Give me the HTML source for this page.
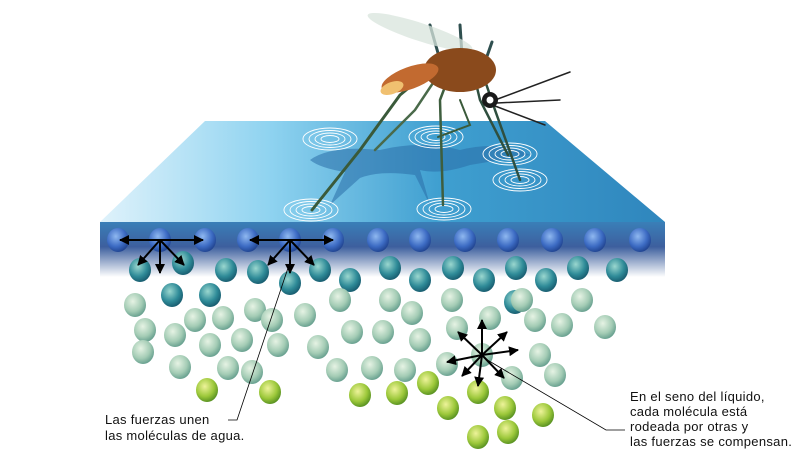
<!DOCTYPE html>
<html><head><meta charset="utf-8"><style>
html,body{margin:0;padding:0;background:#fff;width:800px;height:458px;overflow:hidden}
text{font-family:"Liberation Sans",sans-serif;font-size:13px;letter-spacing:0.3px;fill:#111}
</style></head><body>
<svg width="800" height="458" viewBox="0 0 800 458">
<defs>
<linearGradient id="top" x1="0" x2="1" y1="0" y2="0"><stop offset="0" stop-color="#dff2fb"/><stop offset="0.3" stop-color="#8fd3f0"/><stop offset="0.6" stop-color="#3f9fd0"/><stop offset="1" stop-color="#2f86bd"/></linearGradient>
<linearGradient id="front" x1="0" x2="0" y1="0" y2="1"><stop offset="0" stop-color="#3a7fb8"/><stop offset="0.45" stop-color="#3d5f9e"/><stop offset="1" stop-color="#ffffff"/></linearGradient>
<radialGradient id="gb" cx="0.4" cy="0.35" r="0.7"><stop offset="0" stop-color="#8fb8f0"/><stop offset="0.6" stop-color="#3d6cc4"/><stop offset="1" stop-color="#1d3f8a"/></radialGradient>
<radialGradient id="gt" cx="0.4" cy="0.35" r="0.7"><stop offset="0" stop-color="#9ad7cf"/><stop offset="0.6" stop-color="#2f8b98"/><stop offset="1" stop-color="#15566a"/></radialGradient>
<radialGradient id="gl" cx="0.4" cy="0.35" r="0.7"><stop offset="0" stop-color="#e6f3e4"/><stop offset="0.6" stop-color="#a4ccb5"/><stop offset="1" stop-color="#5f9a8a"/></radialGradient>
<radialGradient id="gy" cx="0.4" cy="0.35" r="0.7"><stop offset="0" stop-color="#eef39a"/><stop offset="0.6" stop-color="#9cc83a"/><stop offset="1" stop-color="#4f8a1e"/></radialGradient>
<marker id="ah" viewBox="0 0 10 10" refX="9" refY="5" markerWidth="5" markerHeight="5" orient="auto"><path d="M0,0L10,5L0,10z" fill="#000"/></marker>
<g id="rp" fill="none" stroke="#fff" stroke-width="0.9"><ellipse rx="27" ry="11"/><ellipse rx="21" ry="8.5"/><ellipse rx="15" ry="6"/><ellipse rx="9" ry="3.5"/></g>
</defs>
<polygon points="205,121 545,121 665,222 100,222" fill="url(#top)"/>
<path d="M310,160 Q330,145 380,150 Q420,140 460,150 Q500,140 530,155 L470,165 Q440,175 420,170 L430,205 L415,175 Q380,170 360,178 L330,205 L345,172 Q320,168 310,160z" fill="#2a6ea8" opacity="0.55"/>
<g>
<use href="#rp" x="330" y="139"/><use href="#rp" x="436" y="137"/><use href="#rp" x="510" y="154"/><use href="#rp" x="520" y="180"/><use href="#rp" x="311" y="210"/><use href="#rp" x="444" y="209"/>
</g>
<rect x="100" y="222" width="565" height="55" fill="url(#front)"/>
<g stroke-linecap="round" fill="none">
<path d="M440,62 L400,95 L360,150 L312,210" stroke="#3a5a3a" stroke-width="3"/>
<path d="M445,65 L415,110 L375,150" stroke="#4a6a4a" stroke-width="2.5"/>
<path d="M455,60 L440,100 L443,205" stroke="#3e5e3e" stroke-width="2.5"/>
<path d="M470,58 L480,100 L508,155" stroke="#2f4f3f" stroke-width="2.5"/>
<path d="M478,60 L495,110 L520,180" stroke="#2f4f3f" stroke-width="2.5"/>
<path d="M460,100 L470,125 L438,137" stroke="#3a5a3a" stroke-width="2"/>
<path d="M430,25 L440,60 M460,25 L462,55 M492,42 L485,62" stroke="#2f4f4f" stroke-width="3"/>
<path d="M495,100 L570,72 M497,103 L560,100 M495,106 L545,125" stroke="#222" stroke-width="1.5"/>
<ellipse cx="420" cy="32" rx="55" ry="9" fill="#d8e4dc" opacity="0.75" transform="rotate(18 420 32)"/>
<ellipse cx="460" cy="70" rx="36" ry="22" fill="#8a4a1c"/>
<ellipse cx="410" cy="78" rx="30" ry="11" fill="#c26a30" transform="rotate(-20 410 78)"/>
<ellipse cx="392" cy="88" rx="12" ry="6" fill="#f0c070" transform="rotate(-20 392 88)"/>
<circle cx="490" cy="100" r="8" fill="#1a1a1a"/><circle cx="490" cy="100" r="3.5" fill="#fff"/>
</g>
<g id="mol"></g>
<g stroke="#000" stroke-width="2" marker-end="url(#ah)">
<line x1="160" y1="240" x2="120" y2="240"/><line x1="160" y1="240" x2="203" y2="240"/><line x1="160" y1="240" x2="138" y2="265"/><line x1="160" y1="240" x2="160" y2="273"/><line x1="160" y1="240" x2="184" y2="265"/>
<line x1="290" y1="240" x2="250" y2="240"/><line x1="290" y1="240" x2="333" y2="240"/><line x1="290" y1="240" x2="268" y2="265"/><line x1="290" y1="240" x2="290" y2="273"/><line x1="290" y1="240" x2="314" y2="265"/>
<line x1="482" y1="355" x2="482" y2="320"/><line x1="482" y1="355" x2="458" y2="332"/><line x1="482" y1="355" x2="507" y2="332"/><line x1="482" y1="355" x2="447" y2="362"/><line x1="482" y1="355" x2="518" y2="350"/><line x1="482" y1="355" x2="462" y2="376"/><line x1="482" y1="355" x2="478" y2="386"/><line x1="482" y1="355" x2="504" y2="378"/>
</g>
<polyline points="290,262 237,420 228,420" fill="none" stroke="#000" stroke-width="0.8"/>
<polyline points="484,358 606,430 625,430" fill="none" stroke="#000" stroke-width="0.8"/>
<text x="105" y="424">Las fuerzas unen</text>
<text x="105" y="440">las moléculas de agua.</text>
<text x="630" y="401">En el seno del líquido,</text>
<text x="630" y="416">cada molécula está</text>
<text x="630" y="431">rodeada por otras y</text>
<text x="630" y="446">las fuerzas se compensan.</text>
</svg>
<script>
const blueX=[118,160,205,248,290,333,378,420,465,508,552,595,640];
const teal=[[140,270],[183,263],[226,270],[258,272],[320,270],[350,280],[390,268],[420,280],[453,268],[484,280],[516,268],[546,280],[578,268],[617,270],[172,295],[210,295],[290,283],[515,302]];
const light=[[135,305],[145,330],[143,352],[180,367],[175,335],[195,320],[210,345],[223,318],[228,368],[242,340],[255,310],[272,320],[278,345],[252,372],[305,315],[318,347],[340,300],[352,332],[337,370],[372,368],[383,332],[390,300],[405,370],[412,313],[420,340],[447,364],[452,300],[457,328],[490,318],[482,355],[512,378],[522,300],[535,320],[540,355],[555,375],[562,325],[582,300],[605,327]];
const yellow=[[207,390],[270,392],[360,395],[397,393],[428,383],[448,408],[478,392],[505,408],[543,415],[478,437],[508,432]];
const g=document.getElementById('mol');
function add(x,y,f){const c=document.createElementNS('http://www.w3.org/2000/svg','ellipse');


c.setAttribute('cx',x);c.setAttribute('cy',y);c.setAttribute('rx',11);c.setAttribute('ry',12);c.setAttribute('fill',f);g.appendChild(c);}
blueX.forEach(x=>add(x,240,'url(#gb)'));
teal.forEach(p=>add(p[0],p[1],'url(#gt)'));
light.forEach(p=>add(p[0],p[1],'url(#gl)'));
yellow.forEach(p=>add(p[0],p[1],'url(#gy)'));
</script>
</body></html>
